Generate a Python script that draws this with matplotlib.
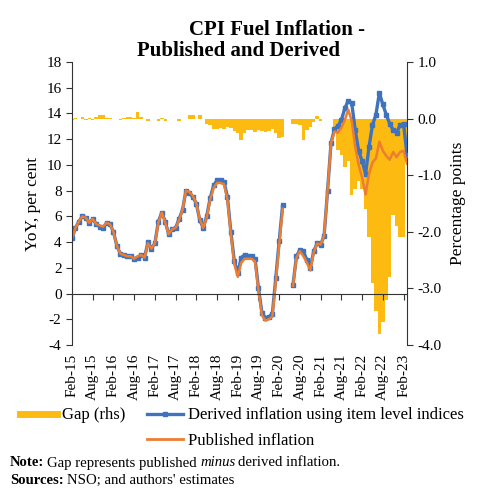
import numpy as np
import matplotlib
matplotlib.use('Agg')
import matplotlib.pyplot as plt
from matplotlib.lines import Line2D

plt.rcParams['font.family'] = ['Liberation Serif', 'DejaVu Serif']
plt.rcParams['axes.unicode_minus'] = False

# Monthly data, Feb-2015 to Mar-2023 (Apr/May-2020 not available)
months = ['Feb-15', 'Aug-15', 'Feb-16', 'Aug-16', 'Feb-17', 'Aug-17', 'Feb-18', 'Aug-18',
          'Feb-19', 'Aug-19', 'Feb-20', 'Aug-20', 'Feb-21', 'Aug-21', 'Feb-22', 'Aug-22', 'Feb-23']
nan = np.nan

published = [4.3, 5.1, 5.6, 6.0, 5.9, 5.5, 5.8, 5.4, 5.3, 5.2, 5.5, 5.4,
             4.8, 3.7, 3.1, 3.0, 2.9, 2.9, 2.7, 2.9, 3.0, 2.8, 3.9, 3.5,
             3.9, 5.5, 6.3, 5.5, 4.6, 5.0, 5.1, 5.7, 6.5, 8.0, 7.9, 7.6,
             7.0, 5.8, 5.1, 5.9, 7.3, 8.2, 8.6, 8.6, 8.5, 7.3, 4.6, 2.3,
             1.3, 2.4, 2.7, 2.7, 2.7, 2.5, 0.2, -1.7, -2.1, -2.0, -1.8, 0.9,
             3.8, 6.6, nan, nan, 0.6, 2.8, 3.3, 2.9, 2.4, 1.8, 3.2, 3.9,
             3.8, 4.5, 8.0, 11.7, 12.6, 12.5, 12.9, 13.5, 14.3, 13.4, 11.4, 10.0,
             9.0, 7.7, 9.3, 10.2, 10.5, 11.8, 11.1, 10.7, 10.4, 11.0, 10.6, 11.0,
             11.1, 10.1]

derived = [4.3, 5.1, 5.6, 6.0, 5.9, 5.5, 5.8, 5.4, 5.2, 5.1, 5.5, 5.4,
           4.8, 3.7, 3.1, 3.0, 2.9, 2.9, 2.7, 2.8, 3.0, 2.8, 4.0, 3.5,
           3.9, 5.6, 6.3, 5.6, 4.6, 5.0, 5.1, 5.8, 6.5, 8.0, 7.8, 7.5,
           7.0, 5.7, 5.1, 6.0, 7.4, 8.4, 8.8, 8.8, 8.7, 7.5, 4.8, 2.5,
           1.6, 2.8, 3.0, 2.9, 2.9, 2.7, 0.4, -1.5, -1.9, -1.8, -1.6, 1.2,
           4.1, 6.9, nan, nan, 0.7, 2.9, 3.4, 3.3, 2.6, 2.0, 3.3, 3.9,
           3.8, 4.5, 8.0, 11.7, 12.8, 13.0, 13.5, 14.4, 15.0, 14.8, 12.7, 11.1,
           10.3, 9.3, 11.4, 13.1, 13.9, 15.6, 14.7, 13.9, 13.2, 12.7, 12.5, 13.1,
           13.2, 10.8]

gap = [-0.03, 0.01, 0.0, 0.03, -0.02, 0.01, -0.03, 0.03, 0.07, 0.06, 0.01, 0.01,
       0.0, 0.0, -0.03, 0.01, 0.02, 0.02, 0.01, 0.12, 0.02, -0.01, -0.05, -0.01,
       0.0, -0.05, 0.01, -0.05, 0.0, -0.01, -0.01, -0.05, 0.0, 0.0, 0.06, 0.06,
       0.0, 0.06, 0.0, -0.1, -0.12, -0.18, -0.18, -0.17, -0.19, -0.15, -0.17, -0.22,
       -0.25, -0.38, -0.25, -0.2, -0.21, -0.23, -0.2, -0.22, -0.24, -0.22, -0.19, -0.25,
       -0.34, -0.32, nan, nan, -0.1, -0.1, -0.12, -0.37, -0.2, -0.15, -0.06, 0.04,
       -0.04, 0.0, 0.0, 0.0, -0.15, -0.55, -0.65, -0.85, -0.75, -1.35, -1.25, -1.1,
       -1.25, -1.6, -2.1, -2.9, -3.4, -3.8, -3.6, -3.2, -2.8, -1.7, -1.9, -2.1,
       -2.1, -0.7]

x = np.arange(len(published))
gap_arr = np.array(gap)
ok = ~np.isnan(gap_arr)

fig = plt.figure(figsize=(4.81, 4.91), dpi=100)
ax = fig.add_axes([72 / 481, 1 - 345 / 491, 335 / 481, 283 / 491])
ax2 = ax.twinx()

# gap bars (rhs), drawn behind the lines
ax2.bar(x[ok], gap_arr[ok], width=1.0, color='#FDBB11', linewidth=0)
ax2.set_ylim(-4, 1)
ax2.set_yticks(np.arange(-4, 1.01, 1))
ax2.set_yticklabels([f'{v:.1f}' for v in np.arange(-4, 1.01, 1)])
ax2.set_ylabel('Percentage points', fontsize=12.5, labelpad=6)

ax.set_zorder(ax2.get_zorder() + 1)
ax.patch.set_visible(False)

ax.plot(x, derived, color='#3F73BE', lw=2.4, marker='s', markersize=3.2)
ax.plot(x, published, color='#ED7D31', lw=1.8)
ax.set_xlim(0, len(x) - 1)
ax.set_ylim(-4, 18)
ax.set_yticks(np.arange(-4, 19, 2))
ax.set_ylabel('YoY, per cent', fontsize=12.5, labelpad=4)

# zero line carries the tick marks, labels sit at the bottom
ax.spines['bottom'].set_position(('data', 0))
ax.spines['top'].set_visible(False)
ax.spines['right'].set_visible(False)
ax.set_xticks(x[::6])
ax.tick_params(axis='x', labelbottom=False, length=4, direction='out', color='#333333')
sec = ax.secondary_xaxis('bottom')
sec.set_xticks(x[::6])
sec.set_xticklabels(months, rotation=90, fontsize=11)
sec.tick_params(length=0, pad=6)
sec.spines['bottom'].set_visible(False)

for a in (ax, ax2):
    for s in a.spines.values():
        s.set_color('#333333')
ax2.spines['top'].set_visible(False)
ax2.spines['left'].set_visible(False)
ax2.spines['bottom'].set_visible(False)
ax.tick_params(axis='y', labelsize=11, length=4, color='#333333')
ax2.tick_params(axis='y', labelsize=11, length=4, color='#333333')

fig.text(277 / 481, 1 - 30 / 491, 'CPI Fuel Inflation -', ha='center', va='center',
         fontsize=15, fontweight='bold')
fig.text(239 / 481, 1 - 51 / 491, 'Published and Derived', ha='center', va='center',
         fontsize=15, fontweight='bold')

handles = [Line2D([], [], color='#FDBB11', lw=5),
           Line2D([], [], alpha=0),
           Line2D([], [], color='#3F73BE', lw=2.4, marker='s', markersize=3),
           Line2D([], [], color='#ED7D31', lw=2)]
labels = ['Gap (rhs)', '', 'Derived inflation using item level indices', 'Published inflation']
fig.legend(handles, labels, ncol=2, loc='center', bbox_to_anchor=(242 / 481, 1 - 428 / 491),
           frameon=False, fontsize=12, handlelength=2.2, handletextpad=0.3,
           columnspacing=1.3, labelspacing=0.55)

# notes with mixed styles
renderer = fig.canvas.get_renderer()


def rich_line(xpix, ypix, parts):
    for txt, kw in parts:
        t = fig.text(xpix / 481, 1 - ypix / 491, txt, va='center', ha='left', fontsize=10.6, **kw)
        xpix += t.get_window_extent(renderer=renderer).width + 3


rich_line(10, 463, [('Note:', {'fontweight': 'bold'}),
                    ('Gap represents published', {}),
                    ('minus', {'fontstyle': 'italic'}),
                    ('derived inflation.', {})])
rich_line(10, 480, [('Sources:', {'fontweight': 'bold'}),
                    ("NSO; and authors' estimates", {})])

fig.savefig('out.png', dpi=100)
